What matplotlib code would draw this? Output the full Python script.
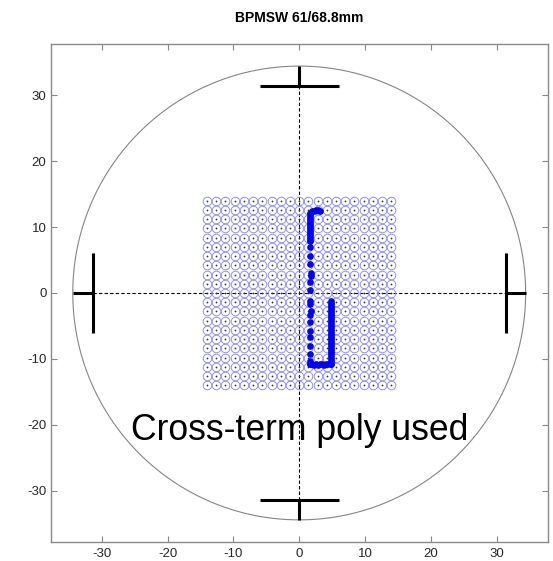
import numpy as np
import matplotlib
matplotlib.use("Agg")
import matplotlib.pyplot as plt

# Geometry of the pick-up (mm)
chamber_radius = 34.4
button_radius = 31.4
button_half_len = 6.0

# Calibration grid positions (mm)
grid_vals = [-14.0, -12.6, -11.2, -9.8, -8.4, -7.0, -5.6, -4.2, -2.8, -1.4, 0.0,
             1.4, 2.8, 4.2, 5.6, 7.0, 8.4, 9.8, 11.2, 12.6, 14.0]

# Reconstructed beam positions along the scan (mm)
hook_x = [3.1, 2.8, 2.5, 2.2, 1.9, 1.7]
hook_y = [12.5, 12.55, 12.55, 12.5, 12.4, 12.2]

upper_x = [1.65, 1.65, 1.65, 1.65, 1.65, 1.65, 1.65, 1.65, 1.65, 1.65, 1.65, 1.65, 1.65, 1.65, 1.65]
upper_y = [12.0, 11.7, 11.4, 11.1, 10.8, 10.5, 10.2, 9.9, 9.6, 9.3, 9.0, 8.7, 8.4, 8.1, 7.9]

sparse_x = [1.65, 1.7, 1.7, 1.75, 1.75, 1.7, 1.65, 1.7, 1.7, 1.75, 1.7, 1.7, 1.7, 1.65, 1.7, 1.7, 1.65, 1.65]
sparse_y = [6.9, 5.65, 4.4, 3.1, 2.6, 1.6, 0.45, -1.2, -1.7, -2.7, -3.4, -4.4, -5.7, -6.7, -8.0, -9.2, -10.3, -10.7]

bottom_x = [1.65, 2.0, 2.3, 2.6, 2.9, 3.2, 3.5, 3.8, 4.1, 4.4, 4.85]
bottom_y = [-10.8, -10.8, -10.85, -10.8, -10.85, -10.8, -10.8, -10.85, -10.8, -10.8, -10.8]

right_x = [4.85] * 33
right_y = [-10.8, -10.5, -10.2, -9.9, -9.6, -9.3, -9.0, -8.7, -8.4, -8.1, -7.8,
           -7.5, -7.2, -6.9, -6.6, -6.3, -6.0, -5.7, -5.4, -5.1, -4.8, -4.5,
           -4.2, -3.9, -3.6, -3.3, -3.0, -2.7, -2.4, -2.1, -1.8, -1.5, -1.2]

x_ticks = [-30, -20, -10, 0, 10, 20, 30]
y_ticks = [-30, -20, -10, 0, 10, 20, 30]

title = "BPMSW 61/68.8mm"
note = "Cross-term poly used"

plt.rcParams['font.family'] = ['Liberation Sans', 'DejaVu Sans']
plt.rcParams['axes.unicode_minus'] = False

fig = plt.figure(figsize=(5.53, 5.61), dpi=100)
ax = fig.add_axes([0.0917, 0.0339, 0.8987, 0.8877])

lim = 37.75
ax.set_xlim(-lim, lim)
ax.set_ylim(-lim, lim)

# Vacuum chamber outline
t = np.linspace(0, 2 * np.pi, 400)
ax.plot(chamber_radius * np.cos(t), chamber_radius * np.sin(t), color='#858585', lw=0.8, zorder=2)

# Centre lines
ax.plot([-button_radius, button_radius], [0, 0], color='black', lw=0.8, ls=(0, (3, 2)), zorder=3)
ax.plot([0, 0], [-button_radius, button_radius], color='black', lw=0.8, ls=(0, (3, 2)), zorder=3)

# Buttons (electrodes)
blw = 2.2
for s in (-1, 1):
    ax.plot([s * button_radius, s * button_radius], [-button_half_len, button_half_len],
            color='black', lw=blw, solid_capstyle='butt', zorder=4)
    ax.plot([s * button_radius, s * chamber_radius], [0, 0],
            color='black', lw=blw, solid_capstyle='butt', zorder=4)
    ax.plot([-button_half_len, button_half_len], [s * button_radius, s * button_radius],
            color='black', lw=blw, solid_capstyle='butt', zorder=4)
    ax.plot([0, 0], [s * button_radius, s * chamber_radius],
            color='black', lw=blw, solid_capstyle='butt', zorder=4)

# Calibration grid
gx, gy = np.meshgrid(grid_vals, grid_vals)
ax.plot(gx.ravel(), gy.ravel(), ls='none', marker='o', ms=6.2, mfc='none',
        mec='#9090ee', mew=0.7, zorder=3)
ax.plot(gx.ravel(), gy.ravel(), ls='none', marker='o', ms=1.3, mfc='#303040',
        mec='none', zorder=3)

# Scan positions
for xs, ys in ((hook_x, hook_y), (upper_x, upper_y), (sparse_x, sparse_y),
               (bottom_x, bottom_y), (right_x, right_y)):
    ax.plot(xs, ys, ls='none', marker='o', ms=4.8, mfc='#0000ff', mec='none', zorder=5)

ax.text(0, -20.9, note, ha='center', va='center', fontsize=25.6, color='black', zorder=6)

ax.set_xticks(x_ticks)
ax.set_yticks(y_ticks)
ax.tick_params(direction='in', length=4.5, width=0.8, color='#888888', labelsize=9.5,
               labelcolor='#262626', top=True, right=True, pad=4)
ax.tick_params(axis='y', pad=3)
for sp in ax.spines.values():
    sp.set_color('#8a8a8a')
    sp.set_linewidth(1.0)

fig.text(0.5407, 0.968, title, ha='center', va='center', fontsize=10, fontweight='bold')

fig.savefig('out.png', dpi=100, facecolor='white')
